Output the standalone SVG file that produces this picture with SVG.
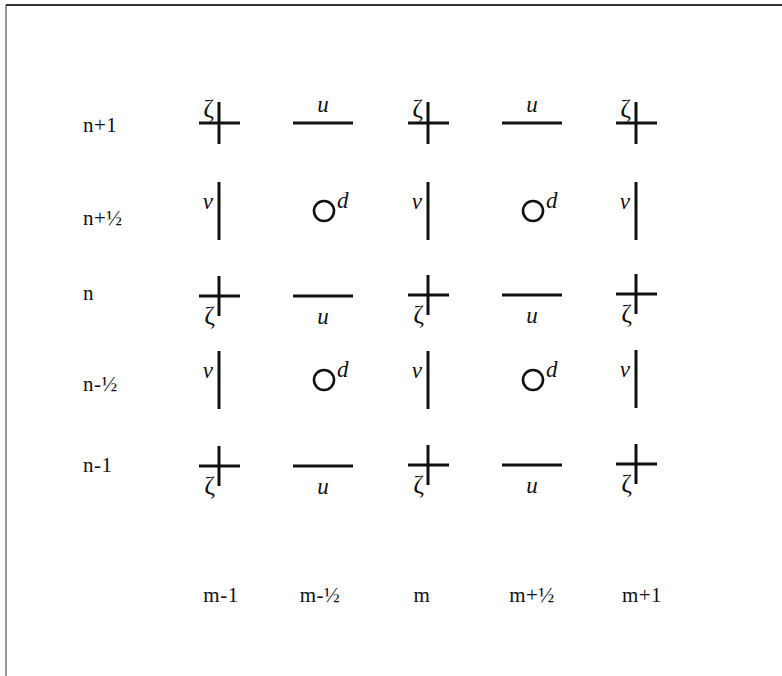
<svg xmlns="http://www.w3.org/2000/svg" width="782" height="676" viewBox="0 0 782 676">
<style>
.ln{stroke:#111;stroke-width:3;fill:none;stroke-linecap:butt}
.frame{stroke:#333;fill:none}
.lbl{font-family:"Liberation Serif","Times New Roman",serif;font-size:21px;fill:#111;letter-spacing:0.5px}
.z{font-family:"Liberation Serif","Times New Roman",serif;font-size:26px;fill:#111;text-anchor:end}
.it{font-family:"Liberation Serif","Times New Roman",serif;font-style:italic;font-size:23px;fill:#111}
.c{text-anchor:middle}
.e{text-anchor:end}
.ci{stroke:#111;stroke-width:2.6;fill:none}
</style>
<defs>
<g id="crossT"><line class="ln" x1="-20" y1="0" x2="21" y2="0"/><line class="ln" x1="0" y1="-21" x2="0" y2="21"/><text class="z" x="-5" y="-6">ζ</text></g>
<g id="crossB"><line class="ln" x1="-20" y1="0" x2="21" y2="0"/><line class="ln" x1="0" y1="-20" x2="0" y2="20"/><text class="z" x="-4" y="28">ζ</text></g>
<g id="uT"><line class="ln" x1="-30" y1="0" x2="30" y2="0"/><text class="it c" x="0" y="-11">u</text></g>
<g id="uB"><line class="ln" x1="-30" y1="0" x2="30" y2="0"/><text class="it c" x="0" y="28">u</text></g>
<g id="vv"><line class="ln" x1="0" y1="-29" x2="0" y2="29"/><text class="it e" x="-6" y="-2">v</text></g>
<g id="dd"><circle class="ci" cx="1" cy="1" r="10"/><text class="it" x="14" y="-2">d</text></g>
</defs>
<g id="frame">
<line class="frame" x1="6" y1="5" x2="782" y2="5" stroke-width="2"/>
<line class="frame" x1="6" y1="5" x2="6" y2="676" stroke-width="1"/>
</g>
<g id="row-labels">
<text class="lbl" x="83" y="132">n+1</text>
<text class="lbl" x="83" y="225">n+½</text>
<text class="lbl" x="83" y="300">n</text>
<text class="lbl" x="83" y="391">n-½</text>
<text class="lbl" x="83" y="472">n-1</text>
</g>
<g id="col-labels">
<text class="lbl c" x="221" y="602">m-1</text>
<text class="lbl c" x="320" y="602">m-½</text>
<text class="lbl c" x="422" y="602">m</text>
<text class="lbl c" x="532" y="602">m+½</text>
<text class="lbl c" x="642" y="602">m+1</text>
</g>
<g id="row-n1">
<use id="z-m1-n1" href="#crossT" x="219" y="123"/>
<use id="u-mh-n1" href="#uT" x="323" y="123"/>
<use id="z-m-n1" href="#crossT" x="428" y="123"/>
<use id="u-ph-n1" href="#uT" x="532" y="123"/>
<use id="z-p1-n1" href="#crossT" x="636" y="123"/>
</g>
<g id="row-nph">
<use id="v-m1-nph" href="#vv" x="219" y="211"/>
<use id="d-mh-nph" href="#dd" x="323" y="210"/>
<use id="v-m-nph" href="#vv" x="428" y="211"/>
<use id="d-ph-nph" href="#dd" x="532" y="210"/>
<use id="v-p1-nph" href="#vv" x="636" y="211"/>
</g>
<g id="row-n">
<use id="z-m1-n" href="#crossB" x="219" y="296"/>
<use id="u-mh-n" href="#uB" x="323" y="296"/>
<use id="z-m-n" href="#crossB" x="428" y="295"/>
<use id="u-ph-n" href="#uB" x="532" y="295"/>
<use id="z-p1-n" href="#crossB" x="636" y="294"/>
</g>
<g id="row-nmh">
<use id="v-m1-nmh" href="#vv" x="219" y="380"/>
<use id="d-mh-nmh" href="#dd" x="323" y="379"/>
<use id="v-m-nmh" href="#vv" x="428" y="380"/>
<use id="d-ph-nmh" href="#dd" x="532" y="379"/>
<use id="v-p1-nmh" href="#vv" x="636" y="379"/>
</g>
<g id="row-nm1">
<use id="z-m1-nm1" href="#crossB" x="219" y="466"/>
<use id="u-mh-nm1" href="#uB" x="323" y="466"/>
<use id="z-m-nm1" href="#crossB" x="428" y="465"/>
<use id="u-ph-nm1" href="#uB" x="532" y="465"/>
<use id="z-p1-nm1" href="#crossB" x="636" y="464"/>
</g>
</svg>
